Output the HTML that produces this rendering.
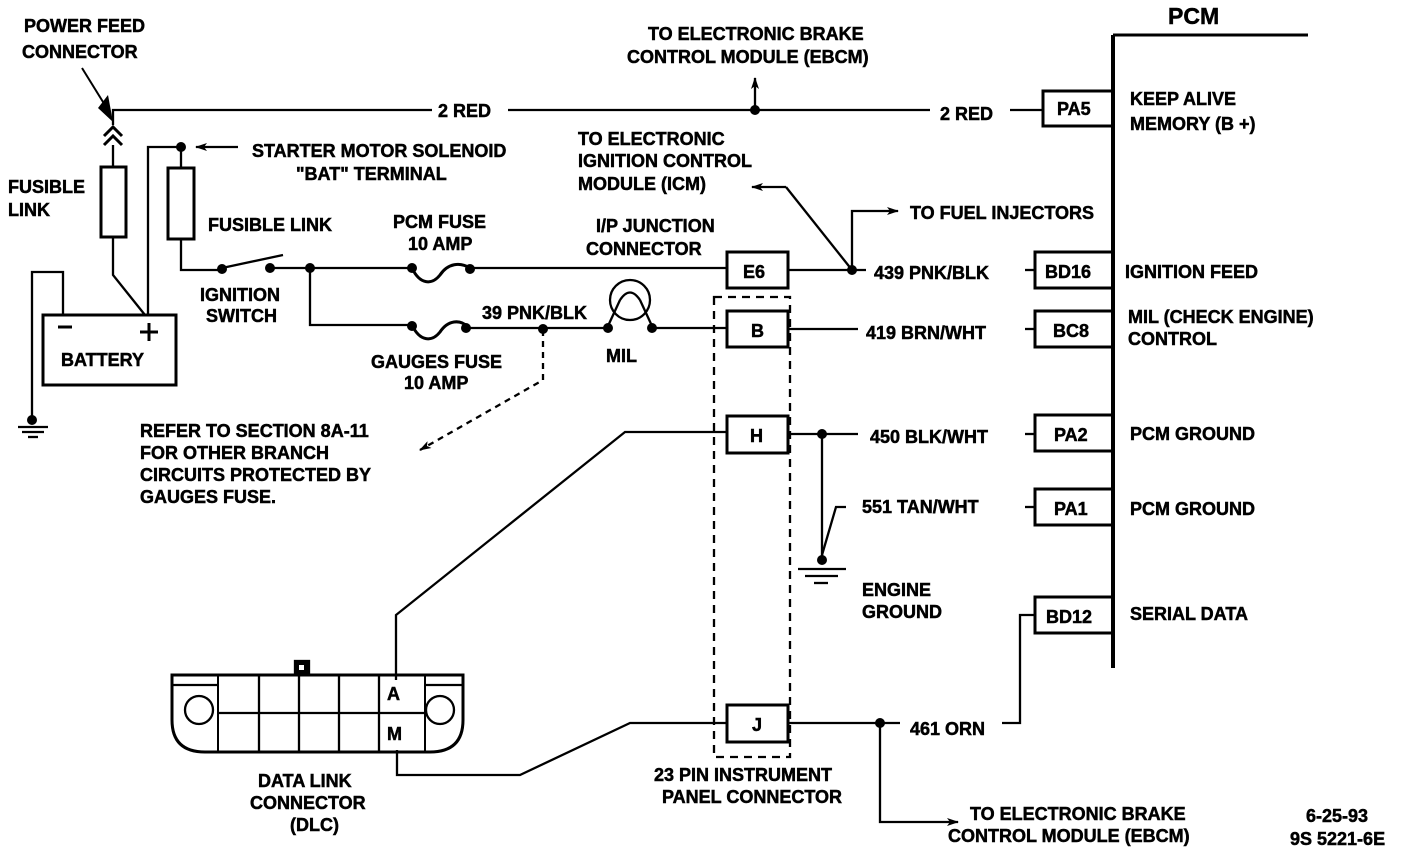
<!DOCTYPE html>
<html><head><meta charset="utf-8"><style>
html,body{margin:0;padding:0;background:#fff}
svg{display:block}
.t text{font-family:"Liberation Sans",sans-serif;font-weight:bold;font-size:18px;fill:#000;stroke:#000;stroke-width:0.5}
</style></head><body>
<svg width="1408" height="856" viewBox="0 0 1408 856" xmlns="http://www.w3.org/2000/svg">
<defs><marker id="ah" markerWidth="12" markerHeight="8" refX="11" refY="4" orient="auto" markerUnits="userSpaceOnUse"><path d="M0,0 L12,4 L0,8 L3,4 Z" fill="#000"/></marker></defs>
<g stroke="#000" stroke-width="2.3" fill="none">
<line x1="1113" y1="35" x2="1113" y2="668" stroke-width="4"/>
<line x1="1113" y1="35" x2="1308" y2="35" stroke-width="3"/>
<rect x="1043" y="91" width="70" height="35" stroke-width="3"/>
<rect x="1035" y="252" width="78" height="36" stroke-width="3"/>
<rect x="1035" y="311" width="78" height="36" stroke-width="3"/>
<rect x="1035" y="415" width="78" height="36" stroke-width="3"/>
<rect x="1035" y="489" width="78" height="36" stroke-width="3"/>
<rect x="1035" y="597" width="78" height="36" stroke-width="3"/>
<path d="M113,125 L113,110 L432,110"/>
<line x1="508" y1="110" x2="930" y2="110"/>
<line x1="1010" y1="110" x2="1043" y2="110"/>
<line x1="755" y1="110" x2="755" y2="78" marker-end="url(#ah)"/>
<path d="M104,136 L113,127 L122,136 M104,145 L113,136 L122,145" stroke-width="3"/>
<line x1="113" y1="145" x2="113" y2="167"/>
<rect x="101" y="167" width="25" height="70" stroke-width="3"/>
<path d="M113,237 L113,275 L145,315"/>
<path d="M148,315 L148,147 L181,147"/>
<line x1="181" y1="147" x2="181" y2="167"/>
<line x1="238" y1="147" x2="196" y2="147" marker-end="url(#ah)"/>
<rect x="168" y="168" width="26" height="71" stroke-width="3"/>
<path d="M181,239 L181,270 L218,270"/>
<line x1="222" y1="268" x2="283" y2="255"/>
<path d="M270,268 L412,268"/>
<path d="M412,268 C420,285 432,285 440,275 C448,263 460,262 470,268" stroke-width="3"/>
<line x1="470" y1="268" x2="727" y2="268"/>
<rect x="727" y="252" width="61" height="36" stroke-width="3"/>
<line x1="788" y1="270" x2="866" y2="270"/>
<line x1="1025" y1="270" x2="1035" y2="270"/>
<path d="M852,270 L852,211 L898,211" marker-end="url(#ah)"/>
<line x1="852" y1="270" x2="786" y2="187"/>
<line x1="786" y1="187" x2="752" y2="187" marker-end="url(#ah)"/>
<path d="M310,268 L310,325 L412,325"/>
<path d="M412,325 C420,342 432,342 440,332 C448,320 460,319 468,327" stroke-width="3"/>
<line x1="468" y1="328" x2="608" y2="328"/>
<circle cx="630" cy="300" r="20"/>
<path d="M620,300 Q630,285 640,300 M620,300 L608,326 M640,300 L652,326"/>
<line x1="652" y1="328" x2="727" y2="328"/>
<rect x="727" y="311" width="61" height="36" stroke-width="3"/>
<line x1="788" y1="329" x2="858" y2="329"/>
<line x1="1025" y1="329" x2="1035" y2="329"/>
<path d="M543,330 L543,380 L420,450" stroke-dasharray="6,5" marker-end="url(#ah)"/>
<rect x="43" y="315" width="133" height="70" stroke-width="3"/>
<path d="M63,315 L63,272 L32,272 L32,420"/>
<line x1="18" y1="427" x2="48" y2="427"/><line x1="22" y1="432" x2="44" y2="432"/><line x1="28" y1="437" x2="38" y2="437"/>
<rect x="714" y="297" width="76" height="460" stroke-dasharray="8,6"/>
<rect x="727" y="416" width="61" height="37" stroke-width="3"/>
<line x1="788" y1="434" x2="858" y2="434"/>
<line x1="1025" y1="434" x2="1035" y2="434"/>
<line x1="822" y1="434" x2="822" y2="558"/>
<path d="M846,507 L836,507 L822,555"/>
<line x1="1025" y1="507" x2="1035" y2="507"/>
<line x1="798" y1="569" x2="846" y2="569"/><line x1="805" y1="576" x2="838" y2="576"/><line x1="814" y1="583" x2="828" y2="583"/>
<path d="M727,432 L625,432 L396,615 L396,680"/>
<rect x="727" y="705" width="61" height="37" stroke-width="3"/>
<line x1="788" y1="723" x2="900" y2="723"/>
<path d="M1002,723 L1020,723 L1020,615 L1035,615"/>
<path d="M880,723 L880,822 L958,822" marker-end="url(#ah)"/>
<path d="M727,723 L630,723 L520,775 L397,775 L397,750"/>
<path d="M172,675 L463,675 L463,720 Q463,752 430,752 L205,752 Q172,752 172,720 Z" stroke-width="3"/>
<line x1="172" y1="685" x2="218" y2="685"/><line x1="425" y1="685" x2="463" y2="685"/>
<rect x="218" y="675" width="207" height="77" stroke-width="2"/>
<line x1="259" y1="675" x2="259" y2="752"/><line x1="299" y1="675" x2="299" y2="752"/><line x1="339" y1="675" x2="339" y2="752"/><line x1="379" y1="675" x2="379" y2="752"/>
<line x1="218" y1="713" x2="425" y2="713"/>
<circle cx="199" cy="710" r="14"/><circle cx="440" cy="710" r="14"/>
<rect x="295" y="661" width="14" height="14" fill="#000"/>
</g>
<rect x="299" y="665" width="5" height="5" fill="#fff"/>
<g fill="#000">
<circle cx="755" cy="110" r="5"/><circle cx="181" cy="147" r="5"/><circle cx="222" cy="269" r="5"/><circle cx="270" cy="268" r="5"/>
<circle cx="310" cy="268" r="5"/><circle cx="412" cy="268" r="5"/><circle cx="470" cy="269" r="5"/><circle cx="852" cy="270" r="5"/>
<circle cx="412" cy="326" r="5"/><circle cx="466" cy="328" r="5"/><circle cx="543" cy="329" r="5"/><circle cx="608" cy="328" r="5"/><circle cx="652" cy="328" r="5"/>
<circle cx="32" cy="420" r="5"/><circle cx="822" cy="434" r="5"/><circle cx="822" cy="560" r="5"/><circle cx="880" cy="723" r="5"/>
<path d="M108,95 L113,122 L98,108Z"/>
</g>
<line x1="82" y1="68" x2="108" y2="110" stroke="#000" stroke-width="2"/>
<line x1="58" y1="327" x2="72" y2="327" stroke="#000" stroke-width="3"/>
<path d="M140,332 L158,332 M149,323 L149,341" stroke="#000" stroke-width="3"/>
<g class="t">
<text x="1168" y="24" style="font-size:23px">PCM</text>
<text x="24" y="32">POWER FEED</text><text x="22" y="58">CONNECTOR</text>
<text x="648" y="40">TO ELECTRONIC BRAKE</text><text x="627" y="63">CONTROL MODULE (EBCM)</text>
<text x="438" y="117">2 RED</text><text x="940" y="120">2 RED</text>
<text x="1130" y="105">KEEP ALIVE</text><text x="1130" y="130">MEMORY (B +)</text>
<text x="1057" y="115">PA5</text>
<text x="578" y="145">TO ELECTRONIC</text><text x="578" y="167">IGNITION CONTROL</text><text x="578" y="190">MODULE (ICM)</text>
<text x="252" y="157">STARTER MOTOR SOLENOID</text><text x="296" y="180">"BAT" TERMINAL</text>
<text x="8" y="193">FUSIBLE</text><text x="8" y="216">LINK</text>
<text x="208" y="231">FUSIBLE LINK</text>
<text x="393" y="228">PCM FUSE</text><text x="408" y="250">10 AMP</text>
<text x="596" y="232">I/P JUNCTION</text><text x="586" y="255">CONNECTOR</text>
<text x="910" y="219">TO FUEL INJECTORS</text>
<text x="743" y="278">E6</text><text x="751" y="337">B</text><text x="750" y="442">H</text><text x="752" y="731">J</text>
<text x="874" y="279">439 PNK/BLK</text><text x="1045" y="278">BD16</text><text x="1125" y="278">IGNITION FEED</text>
<text x="200" y="301">IGNITION</text><text x="206" y="322">SWITCH</text>
<text x="61" y="366">BATTERY</text>
<text x="482" y="319">39 PNK/BLK</text>
<text x="371" y="368">GAUGES FUSE</text><text x="404" y="389">10 AMP</text>
<text x="606" y="362">MIL</text>
<text x="866" y="339">419 BRN/WHT</text><text x="1053" y="337">BC8</text>
<text x="1128" y="323">MIL (CHECK ENGINE)</text><text x="1128" y="345">CONTROL</text>
<text x="140" y="437">REFER TO SECTION 8A-11</text><text x="140" y="459">FOR OTHER BRANCH</text><text x="140" y="481">CIRCUITS PROTECTED BY</text><text x="140" y="503">GAUGES FUSE.</text>
<text x="870" y="443">450 BLK/WHT</text><text x="1054" y="441">PA2</text><text x="1130" y="440">PCM GROUND</text>
<text x="862" y="513">551 TAN/WHT</text><text x="1054" y="515">PA1</text><text x="1130" y="515">PCM GROUND</text>
<text x="862" y="596">ENGINE</text><text x="862" y="618">GROUND</text>
<text x="1046" y="623">BD12</text><text x="1130" y="620">SERIAL DATA</text>
<text x="387" y="700">A</text><text x="387" y="740">M</text>
<text x="910" y="735">461 ORN</text>
<text x="258" y="787">DATA LINK</text><text x="250" y="809">CONNECTOR</text><text x="290" y="831">(DLC)</text>
<text x="654" y="781">23 PIN INSTRUMENT</text><text x="662" y="803">PANEL CONNECTOR</text>
<text x="970" y="820">TO ELECTRONIC BRAKE</text><text x="948" y="842">CONTROL MODULE (EBCM)</text>
<text x="1306" y="822">6-25-93</text><text x="1290" y="845">9S 5221-6E</text>
</g>
</svg>
</body></html>
